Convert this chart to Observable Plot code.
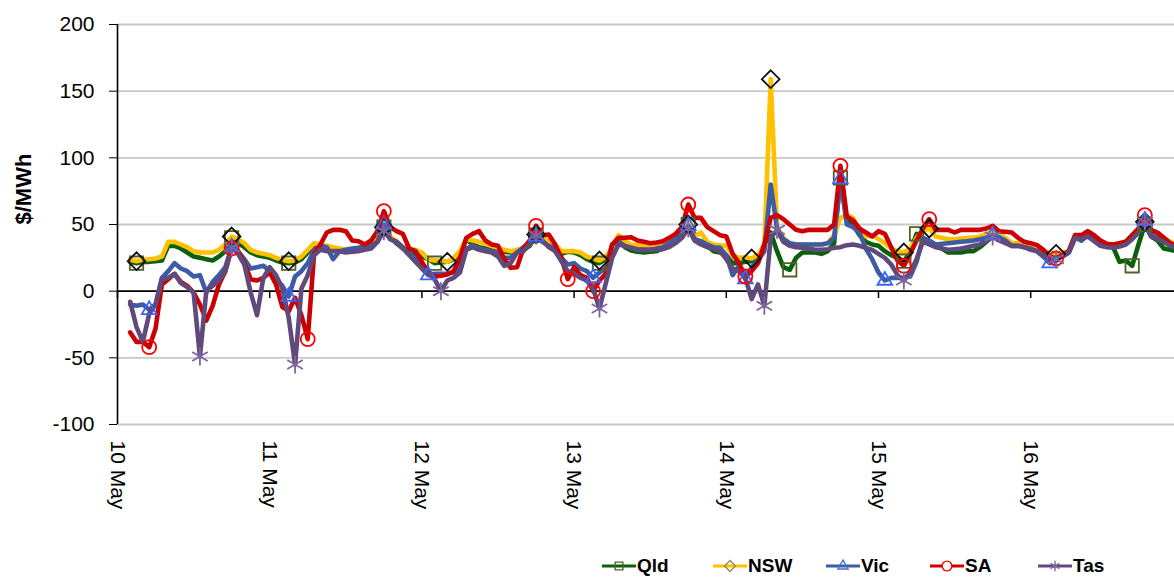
<!DOCTYPE html>
<html><head><meta charset="utf-8">
<script src="https://cdn.jsdelivr.net/npm/d3@7"></script>
<script src="https://cdn.jsdelivr.net/npm/@observablehq/plot@0.6"></script>
<style>
body{margin:0;background:#fff;width:1174px;height:577px;overflow:hidden;position:relative;font-family:"Liberation Sans",Arial,sans-serif;}
#legend{position:absolute;left:0;top:555px;height:22px;width:1174px;}
.item{position:absolute;top:0;height:22px;display:flex;align-items:center;font-weight:bold;font-size:19px;color:#000;}
.item svg{margin-right:1px;}
</style></head><body>
<div id="chart"></div><div id="legend"></div>
<script>
// ---- data: hourly spot prices ($/MWh), starting 10 May 02:00 ----
const seriesNames = ["Qld", "NSW", "Vic", "SA", "Tas"];
const firstHour = 2;
const dayLabels = ["10 May", "11 May", "12 May", "13 May", "14 May", "15 May", "16 May"];
const yTicks = [-100, -50, 0, 50, 100, 150, 200];

const qld = [
  22, 21, 22, 22, 22.5, 23, 34, 34, 32, 29, 26, 25, 24, 23, 26, 30, 40, 36, 33, 29, 27, 26,
  25, 23, 21.5, 21, 21.5, 24, 29, 34, 33, 32, 31, 30, 29.5, 30, 31, 32, 33.5, 40, 48, 40, 36, 32, 30, 28,
  26, 24, 21, 21.5, 22, 24, 28, 39, 35, 33, 32, 30.5, 30, 29.5, 29, 30, 31, 34, 42, 38, 35, 33, 28, 29.5,
  29, 27, 24, 22, 21, 24, 33, 39, 33, 30.5, 29.5, 29, 29.5, 30, 32, 34, 38, 43, 50, 38, 37.5, 34, 30, 29,
  27, 21, 21, 22, 22.5, 26, 35, 44, 30, 18, 16, 25, 29, 29, 29, 28, 30, 36, 85, 54, 50, 42, 37, 35,
  34, 30, 27, 25, 22.5, 29, 43, 40, 37, 35, 32, 29, 29, 29, 30, 30, 33, 37, 41, 39, 37, 34, 35, 35,
  34, 30, 26, 25, 25, 27.5, 29, 41, 38, 44, 40, 35, 34.5, 33, 22, 23, 19, 35, 50, 41, 38, 32, 31, 30
];
const nsw = [
  23.5, 22.5, 23.5, 24, 24.5, 26, 37, 37, 35, 33, 30, 29, 29, 29, 31, 35, 41, 39, 36, 31, 29, 28,
  27, 25, 23.5, 22.5, 23, 26, 31, 36, 35, 34, 33, 32, 31, 31.5, 32.5, 33.5, 35, 41, 48, 41, 37.5, 33, 31.5, 31,
  29, 24, 23, 23, 22, 25, 30, 39, 38, 37, 35.5, 34, 32.5, 31, 30, 31, 32, 35, 42.5, 40, 37.5, 35, 30, 30,
  30, 29, 26, 24.5, 23, 26, 33, 42, 37.5, 35, 34.5, 34, 34, 34.5, 35, 37, 40, 45, 50, 41, 44, 37, 35, 34.5,
  34, 27, 25, 25.5, 24.5, 27.5, 34, 159, 48, 40, 36, 35, 35, 35, 35, 35, 36, 42, 55, 57, 55, 46, 41, 42,
  39, 36, 32, 30, 29, 32, 40, 45, 47, 41, 40, 39, 39, 39.5, 40, 40, 41, 43, 45, 43, 40, 36, 36, 35,
  34, 31, 30, 29, 28, 29, 30, 42, 40, 45, 41, 36, 35, 35, 36, 37.5, 42, 46, 52, 45, 42.5, 40, 37, 35
];
const vic = [
  -10, -11, -10, -14, -10, 10, 15, 21, 17, 15, 11, 12, -1, 7, 12, 18, 33, 30, 24, 17, 18, 19,
  15, 9, 4, -4, 11, 15, 21, 31, 34, 33, 24, 30, 31, 32, 32.5, 33.5, 34, 37, 50, 39, 37, 33, 29, 24,
  17, 12, 13, 13, 13, 14, 17, 32, 34, 32, 31, 30, 29, 25, 25, 29, 33, 36, 41, 37, 34, 32, 25, 20,
  21, 17, 15, 10, 14, 17, 35, 37, 34, 32.5, 31, 31, 31, 32, 33, 36, 39, 43, 49, 39, 37.5, 35, 33, 32.5,
  27, 12, 19, 9, 18, 23, 30, 80, 47, 39, 36, 35, 35, 35, 35, 35, 36, 40, 84, 50, 48, 44, 32, 24,
  14, 8, 10, 10, 10, 11, 22, 40, 38, 35, 35.5, 36, 36.5, 37, 37.5, 38, 39, 40, 42, 40.5, 38, 34, 34, 33,
  32, 30, 26, 21, 25, 26, 29, 40, 38, 42, 39, 36, 34, 34, 35, 36, 40, 45, 53, 43, 40, 38, 35, 34
];
const sa = [
  -31, -38, -38, -42, -28, 5, 9, 13, 7, 4, -1, -10, -22, -11, 5, 15, 32, 30, 21, 9, 8, 10,
  14, 5, -12, -15, -5, -18, -36, 28, 35, 44, 46, 46, 45, 38, 37.5, 35, 38, 45, 60, 48, 45, 43, 32, 30,
  22, 14, 11, 11.5, 12.5, 15, 25, 40, 43, 45, 38, 35, 34, 24, 17.5, 18, 32, 38, 49, 42, 42.5, 35, 25, 9,
  18, 12, 10, 0, 8, 13, 35, 40, 40, 40.5, 38, 37, 36, 36.5, 37.5, 40, 43, 48, 65, 55, 55, 48, 45, 42,
  41, 28, 21, 11, 15, 21, 35, 55, 57, 54, 50, 46, 45, 46, 46, 46, 46, 50, 94, 56, 53, 47, 44, 41,
  45, 43, 33, 23, 19, 28, 38, 47, 54, 46, 46, 46, 44, 46, 46, 46, 46, 47, 49, 45, 44.5, 44, 40, 37,
  36, 34.5, 31, 26, 24.5, 27, 30, 42, 42, 45, 42, 38, 35.5, 35, 36, 37, 42, 47, 57, 46, 44, 40, 36, 34
];
const tas = [
  -8, -27, -38, -17, -10, 9, 10, 13, 6, 3, -1, -49, 0, 4, 8, 15, 33, 28, 20, -1, -18, 10,
  18, 12, 2, -20, -55, 2, 12, 27, 31, 30, 30, 30, 29, 29.5, 30, 31, 32, 37, 45, 39, 37, 32, 27, 22,
  17, 13, 9, 0, 8, 10, 14, 31, 33, 31, 30, 29, 26, 19, 21, 29, 30, 35, 42, 38, 33, 30, 22.5, 15,
  13, 10, 8, 2, -13, 6, 25, 35, 34, 32.5, 31.5, 31, 31, 31, 31.5, 33, 36, 40, 47, 38, 35, 33, 32, 30,
  24, 17, 15, 10, -6, 5, -11, 40, 46, 37, 34, 33, 32.5, 32, 31, 31, 31.5, 32.5, 33, 34.5, 35, 34, 32.5, 31,
  28, 25, 20, 12, 8, 14, 24, 37, 35, 33, 32, 31, 31.5, 32, 33, 34, 35, 38, 41, 38, 36, 34, 34, 33,
  31, 30, 27, 25, 24, 26, 29, 40, 39, 41, 37.5, 34, 33, 32.5, 33.5, 35, 39, 44, 52, 41, 39, 37, 34, 32.5
];

// ---- styles ----
const lineColors = ["#0b610b", "#ffc000", "#3d5ca8", "#cc0000", "#604a7b"];
const markerColors = ["#4f6228", "#111111", "#3366ff", "#ff0000", "#7d66a0"];
const legendMarkerColors = ["#4f6228", "#948a54", "#4472c4", "#ff0000", "#8064a2"];
const markerSymbols = ["square2", "diamond2", "triangle2", "circle", "asterisk"];
const markerR = [8.5, 8, 7, 7, 8.5];

const HOUR = 3600e3, DAY = 24 * HOUR;
const t0 = Date.UTC(2021, 4, 10);
const days = dayLabels.map((_, i) => new Date(t0 + i * DAY));
const values = [qld, nsw, vic, sa, tas];
const rows = seriesNames.map((name, k) => values[k].map((v, i) => ({series: name, t: new Date(t0 + (firstHour + i) * HOUR), v})));
// markers: daily minimum and maximum of each region
const markers = rows.map(r => d3.groups(r, d => Math.floor((d.t - t0) / DAY))
  .flatMap(([, g]) => [d3.least(g, d => d.v), d3.greatest(g, d => d.v)]));

const marginLeft = 117, width = 1174, height = 530;
const pxPerDay = 152.2;
const xEnd = new Date(t0 + (width - marginLeft) / pxPerDay * DAY);

const chart = Plot.plot({
  width, height,
  marginLeft, marginRight: 0, marginTop: 24, marginBottom: 106,
  style: {fontFamily: "'Liberation Sans', Arial, sans-serif", fontSize: "21px", background: "#fff", color: "#000"},
  x: {type: "utc", domain: [new Date(t0), xEnd], axis: null},
  y: {domain: [-100, 200]},
  marks: [
    Plot.ruleY(yTicks.filter(d => d !== 0), {stroke: "#c8c8c8", strokeWidth: 1.8}),
    Plot.ruleY([0], {stroke: "#000", strokeWidth: 1.6}),
    Plot.ruleX(days, {x: d => d, y1: 0, y2: -5.5, stroke: "#000", strokeWidth: 1.5}),
    Plot.ruleX([days[0]], {stroke: "#000", strokeWidth: 1.6}),
    Plot.axisY(yTicks, {tickSize: 8, tickPadding: 15, fontSize: 21, tickFormat: d => String(d), label: null, stroke: "#000"}),
    Plot.text(days, {x: d => d, y: -100, text: (d, i) => dayLabels[i], rotate: 90, textAnchor: "start", dy: 16, fontSize: 21, fill: "#000"}),
    Plot.text(["$/MWh"], {frameAnchor: "left", dx: -94, rotate: -90, fontSize: 22, fontWeight: "bold", fill: "#000"}),
    ...rows.map((r, k) => Plot.line(r, {x: "t", y: "v", stroke: lineColors[k], strokeWidth: 4.6, strokeLinejoin: "round"})),
    ...markers.map((m, k) => Plot.dot(m, {x: "t", y: "v", symbol: markerSymbols[k], r: markerR[k], stroke: markerColors[k], fill: "none", strokeWidth: 1.8}))
  ]
});
document.getElementById("chart").appendChild(chart);

// ---- legend ----
const symbolMap = {square2: d3.symbolSquare2, diamond2: d3.symbolDiamond2, triangle2: d3.symbolTriangle2, circle: d3.symbolCircle, asterisk: d3.symbolAsterisk};
const legendX = [602, 713, 826, 930, 1038];
const legend = d3.select("#legend");
seriesNames.forEach((name, k) => {
  const item = legend.append("div").attr("class", "item").style("left", legendX[k] + "px");
  const svg = item.append("svg").attr("width", 34).attr("height", 22);
  svg.append("line").attr("x1", 0).attr("x2", 34).attr("y1", 11).attr("y2", 11)
    .attr("stroke", lineColors[k]).attr("stroke-width", 3);
  svg.append("path").attr("transform", "translate(17,11)")
    .attr("d", d3.symbol(symbolMap[markerSymbols[k]], 75)())
    .attr("fill", k === 3 ? "#fff" : "none").attr("stroke", legendMarkerColors[k]).attr("stroke-width", 1.4);
  item.append("span").text(name);
});
</script></body></html>
